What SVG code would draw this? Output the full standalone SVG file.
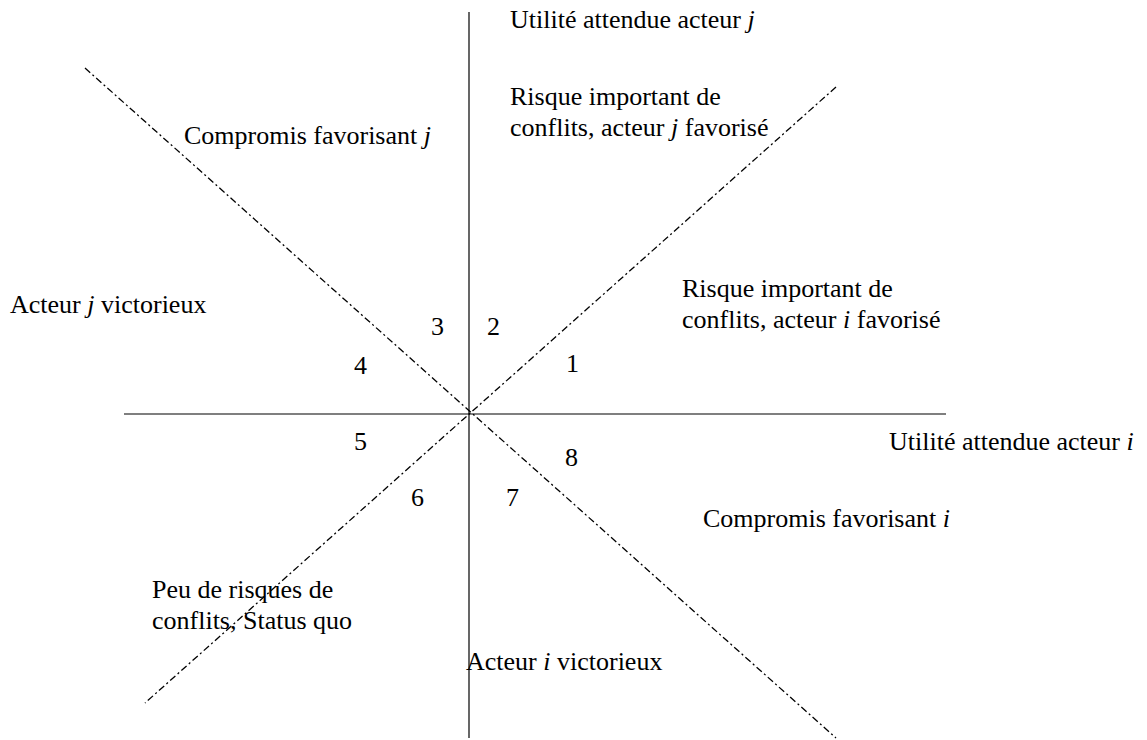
<svg xmlns="http://www.w3.org/2000/svg" width="1147" height="740" viewBox="0 0 1147 740">
<style>
text{font-family:"Liberation Serif","Times New Roman",serif;font-size:26px;fill:#000}
.ax{stroke:#000;stroke-width:1.2;fill:none}
.dg{stroke:#000;stroke-width:1.3;fill:none;stroke-dasharray:7 3 2 3}
</style>
<rect width="1147" height="740" fill="#fff"/>
<g id="connectors">
<line class="ax" x1="469" y1="12" x2="469" y2="738"/>
<line class="ax" x1="124" y1="414" x2="946" y2="414"/>
<line class="dg" x1="85" y1="68" x2="836" y2="738"/>
<line class="dg" x1="836" y1="87" x2="145" y2="703"/>
</g>
<g id="axis-j"><text x="510" y="28">Utilité attendue acteur <tspan font-style="italic">j</tspan></text></g>
<g id="risk-j"><text x="510" y="105">Risque important de</text><text x="510" y="136">conflits, acteur <tspan font-style="italic">j</tspan> favorisé</text></g>
<g id="comp-j"><text x="184" y="144">Compromis favorisant <tspan font-style="italic">j</tspan></text></g>
<g id="vict-j"><text x="10" y="313">Acteur <tspan font-style="italic">j</tspan> victorieux</text></g>
<g id="risk-i"><text x="682" y="297">Risque important de</text><text x="682" y="328">conflits, acteur <tspan font-style="italic">i</tspan> favorisé</text></g>
<g id="axis-i"><text x="889" y="450">Utilité attendue acteur <tspan font-style="italic">i</tspan></text></g>
<g id="comp-i"><text x="703" y="527">Compromis favorisant <tspan font-style="italic">i</tspan></text></g>
<g id="status-quo"><text x="152" y="598">Peu de risques de</text><text x="152" y="629">conflits, Status quo</text></g>
<g id="vict-i"><text x="466" y="670">Acteur <tspan font-style="italic">i</tspan> victorieux</text></g>
<g id="n1"><text x="566" y="372">1</text></g>
<g id="n2"><text x="487" y="335">2</text></g>
<g id="n3"><text x="431" y="335">3</text></g>
<g id="n4"><text x="354" y="374">4</text></g>
<g id="n5"><text x="354" y="450">5</text></g>
<g id="n6"><text x="411" y="506">6</text></g>
<g id="n7"><text x="506" y="506">7</text></g>
<g id="n8"><text x="565" y="466">8</text></g>
</svg>
